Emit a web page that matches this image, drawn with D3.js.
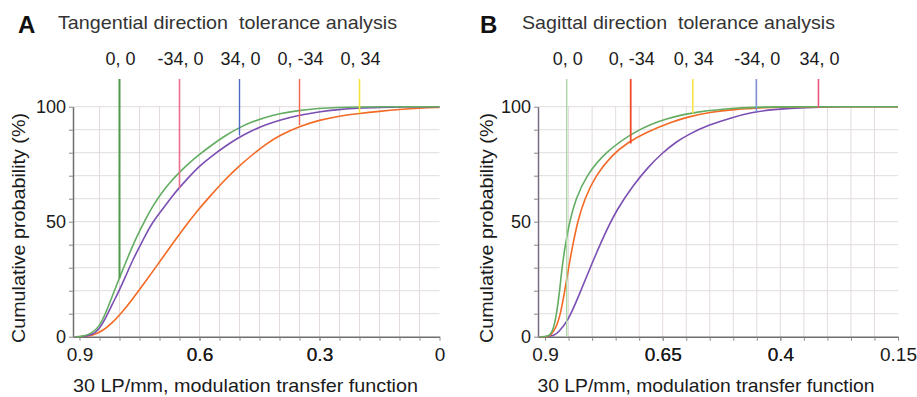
<!DOCTYPE html>
<html lang="en">
<head>
<meta charset="UTF-8">
<title>Tolerance analysis</title>
<style>
  body { margin: 0; background: #fff; }
  text { font-family: "Liberation Sans", Arial, Helvetica, sans-serif; }
</style>
</head>
<body>
<div id="chart"></div>
<script src="https://d3js.org/d3.v7.min.js"></script>
<script>
// ---- data: [MTF at 30 LP/mm, cumulative %] ----
const tanGreen = [[0.91,0],[0.894,0],[0.869,1.5],[0.852,4],[0.835,10],[0.819,17.2],[0.802,24.8],[0.785,32],[0.769,38.8],[0.752,45.2],[0.735,51],[0.719,56.2],[0.694,62.8],[0.669,68],[0.652,71.2],[0.627,75.3],[0.602,79],[0.569,83.4],[0.535,87.5],[0.502,90.8],[0.469,93.4],[0.435,95.4],[0.402,96.9],[0.352,98.4],[0.302,99.3],[0.252,99.7],[0.2,99.9],[0.15,100],[0,100]];
const tanPurple = [[0.91,0],[0.894,0],[0.869,0.7],[0.852,2.9],[0.835,8],[0.819,13.8],[0.802,19.6],[0.785,26.1],[0.769,32.6],[0.752,38.4],[0.735,44.2],[0.719,49.3],[0.694,55.1],[0.669,60.9],[0.652,64.5],[0.627,69.3],[0.602,74],[0.569,78.6],[0.535,82.9],[0.502,86.6],[0.469,89.6],[0.435,92.1],[0.402,94.1],[0.352,96.3],[0.302,97.8],[0.252,98.8],[0.202,99.4],[0.15,99.7],[0.1,99.9],[0,100]];
const tanOrange = [[0.91,0],[0.894,0],[0.869,0.4],[0.844,2.3],[0.819,5.8],[0.794,10.5],[0.769,16],[0.735,24],[0.702,32],[0.669,40],[0.64,47],[0.602,55.5],[0.569,62],[0.535,68.5],[0.502,74],[0.469,79],[0.432,84],[0.4,87.5],[0.35,91.5],[0.3,94.2],[0.25,96],[0.2,97.1],[0.15,98],[0.1,98.8],[0.05,99.4],[0,99.7]];

const sagGreen = [[0.91,0],[0.896,0],[0.888,1],[0.881,4],[0.874,12],[0.869,20],[0.864,30],[0.857,40],[0.848,50],[0.835,60],[0.812,70],[0.774,80],[0.705,90],[0.643,95],[0.574,98],[0.491,99.5],[0.433,100],[0.15,100]];
const sagOrange = [[0.91,0],[0.895,0],[0.888,0.5],[0.876,4],[0.867,10],[0.858,20],[0.85,30],[0.841,40],[0.831,50],[0.816,60],[0.793,70],[0.758,79],[0.724,84.5],[0.684,89],[0.629,93.5],[0.596,95.6],[0.55,97.6],[0.5,98.8],[0.433,99.6],[0.38,100],[0.15,100]];
const sagPurple = [[0.91,0],[0.896,0],[0.881,0.5],[0.871,2],[0.851,7],[0.83,17],[0.802,31],[0.775,44],[0.747,55.5],[0.713,65.8],[0.68,74],[0.65,80],[0.623,84.5],[0.595,88],[0.553,92],[0.503,95.3],[0.461,97.5],[0.42,98.7],[0.38,99.3],[0.331,99.7],[0.28,100],[0.15,100]];

const tanMarkerLabels = ["0, 0", "-34, 0", "34, 0", "0, -34", "0, 34"];
const tanMarkerMtf = [0.8, 0.65, 0.5, 0.35, 0.2];
const tanMarkerEnd = [25.4, 64.5, 87.5, 92, 97.2];

const sagMarkerLabels = ["0, 0", "0, -34", "0, 34", "-34, 0", "34, 0"];
const sagMarkerMtf = [0.854, 0.718, 0.586, 0.451, 0.319];
const sagMarkerEnd = [0, 84, 97.2, 97.8, 99.5];

const tanTicks = [0.9, 0.6, 0.3, 0];
const sagTicks = [0.9, 0.65, 0.4, 0.15];
const yTicks = [0, 50, 100];

const svg = d3.select("#chart").append("svg")
  .attr("width", 917).attr("height", 397);

function drawPanel(p) {
  const g = svg.append("g");
  const x = d3.scaleLinear().domain(p.xDomain).range([p.left, p.right]);
  const y = d3.scaleLinear().domain([0, 100]).range([336.7, 106.7]);

  // grid
  const gridX = d3.range(1, p.nGrid + 1).map(i => +(0.9 - i * 0.05).toFixed(2));
  const gridY = d3.range(10, 101, 10);
  g.append("g").selectAll("line").data(gridX).join("line")
    .attr("x1", d => x(d)).attr("x2", d => x(d))
    .attr("y1", y(0)).attr("y2", y(100))
    .attr("stroke", "#e4dcdc").attr("stroke-width", 1);
  g.append("g").selectAll("line").data(gridY).join("line")
    .attr("x1", p.left).attr("x2", p.right)
    .attr("y1", d => y(d)).attr("y2", d => y(d))
    .attr("stroke", "#e4dcdc").attr("stroke-width", 1);

  // axes
  const xAxis = d3.axisBottom(x)
    .tickValues([0.9].concat(gridX).concat(p.ticks.slice(1)))
    .tickSize(4).tickSizeOuter(0)
    .tickFormat(d => p.ticks.includes(d) ? String(d) : "");
  const gx = g.append("g").attr("transform", `translate(0,${y(0)})`).call(xAxis);
  gx.select(".domain").attr("stroke", "#6e6e6e").attr("stroke-width", 1.5);
  gx.selectAll(".tick line").attr("stroke", "#888");
  gx.selectAll(".tick text").attr("font-size", 19).attr("fill", "#1a1a1a")
    .attr("font-family", "Liberation Sans, Arial, sans-serif").attr("dy", "0.9em");

  const yAxis = d3.axisLeft(y).tickValues(gridY.concat([0]))
    .tickSize(4).tickSizeOuter(0)
    .tickFormat(d => yTicks.includes(d) ? String(d) : "");
  const gy = g.append("g").attr("transform", `translate(${p.left},0)`).call(yAxis);
  gy.select(".domain").attr("stroke", p.yAxisColor).attr("stroke-width", 1.5);
  gy.selectAll(".tick line").attr("stroke", "#888");
  gy.selectAll(".tick text").attr("font-size", 18).attr("fill", "#1a1a1a")
    .attr("font-family", "Liberation Sans, Arial, sans-serif").attr("x", -7);

  // curves
  const line = d3.line().x(d => x(d[0])).y(d => y(d[1])).curve(d3.curveBasis);
  p.curves.forEach(c => {
    g.append("path").datum(c.data).attr("d", line)
      .attr("fill", "none").attr("stroke", c.color).attr("stroke-width", 1.6);
  });

  // markers
  p.markers.labels.forEach((lab, i) => {
    const mx = x(p.markers.mtf[i]);
    g.append("line").attr("x1", mx).attr("x2", mx)
      .attr("y1", 79).attr("y2", y(p.markers.end[i]))
      .attr("stroke", p.markers.colors[i]).attr("stroke-width", p.markers.widths[i]);
    g.append("text").attr("x", mx + 1).attr("y", 65)
      .attr("text-anchor", "middle").attr("font-size", 18).attr("fill", "#1a1a1a")
      .text(lab);
  });

  // titles
  g.append("text").attr("x", p.letterX).attr("y", 33)
    .attr("font-size", 24).attr("font-weight", "bold").attr("fill", "#111").text(p.letter);
  g.append("text").attr("x", p.titleX).attr("y", 29)
    .attr("font-size", 19).attr("fill", "#333").attr("xml:space", "preserve")
    .attr("textLength", p.titleLen).attr("lengthAdjust", "spacingAndGlyphs").text(p.title);
  g.append("text").attr("x", p.xTitleX).attr("y", 392).attr("text-anchor", "middle")
    .attr("font-size", 19).attr("fill", "#1a1a1a")
    .attr("textLength", p.xTitleLen).attr("lengthAdjust", "spacingAndGlyphs")
    .text("30 LP/mm, modulation transfer function");
  g.append("text").attr("transform", `translate(${p.yTitleX},228) rotate(-90)`)
    .attr("text-anchor", "middle").attr("font-size", 19).attr("fill", "#1a1a1a")
    .attr("textLength", 230).attr("lengthAdjust", "spacingAndGlyphs")
    .text("Cumulative probability (%)");
}

drawPanel({
  left: 73, right: 439.5, xDomain: [0.91625, 0], nGrid: 17, ticks: tanTicks,
  yAxisColor: "#6e6e6e",
  curves: [
    { data: tanOrange, color: "#f26a24" },
    { data: tanPurple, color: "#7b4fb3" },
    { data: tanGreen, color: "#63ad62" }
  ],
  markers: {
    labels: tanMarkerLabels, mtf: tanMarkerMtf, end: tanMarkerEnd,
    colors: ["#4f9a4c", "#ec6f8c", "#4d68c2", "#f2674b", "#f5e33a"],
    widths: [2, 1.6, 1.4, 1.4, 1.6]
  },
  letter: "A", letterX: 18, title: "Tangential direction  tolerance analysis", titleX: 58, titleLen: 339,
  xTitleX: 245.5, xTitleLen: 345, yTitleX: 24.5
});

drawPanel({
  left: 538, right: 898, xDomain: [0.915, 0.15], nGrid: 14, ticks: sagTicks,
  yAxisColor: "#7a6a80",
  curves: [
    { data: sagPurple, color: "#7b4fb3" },
    { data: sagOrange, color: "#f26a24" },
    { data: sagGreen, color: "#63ad62" }
  ],
  markers: {
    labels: sagMarkerLabels, mtf: sagMarkerMtf, end: sagMarkerEnd,
    colors: ["#acd5a4", "#f04a2c", "#f6e54a", "#7d8fd6", "#e9587c"],
    widths: [1.4, 1.8, 1.6, 1.6, 1.6]
  },
  letter: "B", letterX: 480, title: "Sagittal direction  tolerance analysis", titleX: 522, titleLen: 313,
  xTitleX: 706, xTitleLen: 337, yTitleX: 493
});
</script>
</body>
</html>
